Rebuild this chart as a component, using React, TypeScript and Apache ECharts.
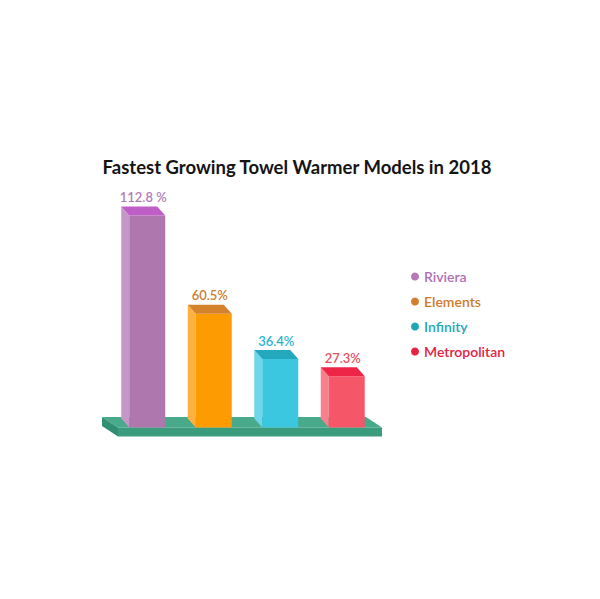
import React, { useEffect, useRef } from "react";
import * as echarts from "echarts";

// models and growth values (%)
const models: string[] = ["Riviera", "Elements", "Infinity", "Metropolitan"];
const growth: number[] = [112.8, 60.5, 36.4, 27.3];
const growthLabels: string[] = ["112.8 %", "60.5%", "36.4%", "27.3%"];

// colours per model: front, side, top, label, legend dot, legend text
const frontColors = ["#ae78ae", "#fd9c02", "#3bc7e0", "#f55668"];
const sideColors = ["#c498c6", "#fdb240", "#70d7eb", "#f6808c"];
const topColors = ["#c05ec8", "#d4822c", "#23a8bd", "#ee2547"];
const labelColors = ["#b07ab6", "#cc7c2e", "#2ab5ce", "#e84f60"];
const dotColors = ["#b37ab5", "#d2802c", "#1fa6b6", "#e8233f"];
const legendTextColors = ["#b070b3", "#cf7a26", "#1ca7b8", "#e22242"];

const BAR_W = 36;
const DX = 8; // bar depth, to the left
const DY = 9; // bar depth, upwards

const FONT = "Lato, 'Open Sans', sans-serif";

const App: React.FC = () => {
  const chartRef = useRef<HTMLDivElement | null>(null);

  useEffect(() => {
    const chartDom = chartRef.current;
    if (!chartDom) return;
    const myChart = echarts.init(chartDom, undefined, { renderer: "svg" });

    const barSeries = models.map((name, i) => ({
      name,
      type: "custom",
      z: 3,
      itemStyle: { color: dotColors[i] },
      data: [[i, growth[i]]],
      renderItem: (params: any, api: any) => {
        const top = api.coord([api.value(0), api.value(1)]);
        const bottom = api.coord([api.value(0), 0]);
        const cx = top[0];
        const l = cx - BAR_W / 2;
        const r = cx + BAR_W / 2;
        const yt = top[1];
        const yb = bottom[1];
        return {
          type: "group",
          children: [
            {
              type: "polygon",
              shape: { points: [[l, yt], [l - DX, yt - DY], [l - DX, yb - DY], [l, yb]] },
              style: { fill: sideColors[i] },
            },
            {
              type: "rect",
              shape: { x: l, y: yt, width: BAR_W, height: yb - yt },
              style: { fill: frontColors[i] },
            },
            {
              type: "polygon",
              shape: { points: [[l, yt], [l - DX, yt - DY], [r - DX, yt - DY], [r, yt]] },
              style: { fill: topColors[i] },
            },
            {
              type: "text",
              x: cx - DX / 2,
              y: yt - DY - 3,
              style: {
                text: growthLabels[i],
                align: "center",
                verticalAlign: "bottom",
                fill: labelColors[i],
                fontSize: 13,
                fontWeight: 600,
                fontFamily: FONT,
              },
            },
          ],
        };
      },
    }));

    // green platform the bars stand on
    const baseSeries = {
      type: "custom",
      z: 1,
      silent: true,
      data: [[0, 0]],
      renderItem: (params: any, api: any) => {
        const cs = params.coordSys;
        const x0 = cs.x + 4;
        const x1 = cs.x + cs.width + 2;
        const y0 = cs.y + cs.height;
        const t = 9;
        const dx = 16;
        const dy = 10.5;
        return {
          type: "group",
          children: [
            {
              type: "polygon",
              shape: { points: [[x0, y0], [x0 - dx, y0 - dy], [x1 - dx, y0 - dy], [x1, y0]] },
              style: { fill: "#48a98b" },
            },
            {
              type: "polygon",
              shape: { points: [[x0, y0], [x0 - dx, y0 - dy], [x0 - dx, y0 - dy + t], [x0, y0 + t]] },
              style: { fill: "#2f8f72" },
            },
            {
              type: "rect",
              shape: { x: x0, y: y0, width: x1 - x0, height: t },
              style: { fill: "#3a9c7d" },
            },
          ],
        };
      },
    };

    const option = {
      animation: false,
      backgroundColor: "#ffffff",
      title: {
        text: "Fastest Growing Towel Warmer Models in 2018",
        left: 292,
        top: 152,
        textAlign: "center",
        textStyle: {
          fontSize: 18.5,
          fontWeight: "bold",
          fontFamily: FONT,
          color: "#141414",
        },
      },
      legend: {
        orient: "vertical",
        left: 406,
        top: 264.5,
        itemWidth: 8,
        itemHeight: 8,
        itemGap: 11,
        icon: "circle",
        textStyle: { fontSize: 14, fontWeight: 600, fontFamily: FONT },
        data: models.map((name, i) => ({
          name,
          itemStyle: { color: dotColors[i] },
          textStyle: { color: legendTextColors[i] },
        })),
      },
      grid: { left: 114, right: 220, top: 202, bottom: 171.5 },
      xAxis: {
        type: "category",
        data: models,
        show: false,
      },
      yAxis: {
        type: "value",
        min: 0,
        max: 120,
        show: false,
      },
      series: [baseSeries, ...barSeries],
    };

    myChart.setOption(option as any);

    return () => {
      myChart.dispose();
    };
  }, []);

  return (
    <div
      ref={chartRef}
      style={{ position: "fixed", top: 0, left: 0, width: 600, height: 599 }}
    />
  );
};

export default App;
